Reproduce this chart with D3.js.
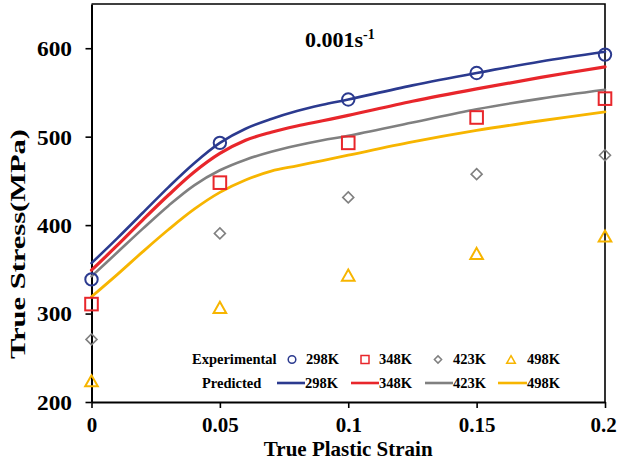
<!DOCTYPE html>
<html><head><meta charset="utf-8">
<script src="https://cdn.jsdelivr.net/npm/d3@7"></script>
<style>body{margin:0;background:#fff} svg{display:block}</style>
</head><body><div id="chart"></div>
<script>
// ---- data ----
const temperatures = ["298K", "348K", "423K", "498K"];
const strainExp = [0, 0.05, 0.1, 0.15, 0.2];
const exp298 = [338.6, 493, 542, 572, 592.8];
const exp348 = [310.7, 448, 493, 521.7, 543];
const exp423 = [270.8, 390.6, 431.3, 457.6, 479];
const exp498 = [224, 307, 343.5, 368, 387.6];
const strainPred = [0, 0.01, 0.02, 0.03, 0.04, 0.05, 0.06, 0.07, 0.08, 0.09, 0.1, 0.125, 0.15, 0.175, 0.2];
const pred298 = [357, 385, 414, 443, 470, 493, 509, 520, 529, 536, 542, 558, 572, 585, 596];
const pred348 = [349, 377, 406, 434, 460, 481, 496, 505, 512, 518, 524, 540, 554, 567, 579];
const pred423 = [342, 369, 396, 422, 445, 462, 474, 483, 490, 496, 501, 516, 531, 543, 553];
const pred498 = [319, 344, 370, 395, 418, 437, 451, 461, 467, 473, 479, 494, 507, 518, 528];
const xTicks = [0, 0.05, 0.1, 0.15, 0.2];
const xTickLabels = ["0", "0.05", "0.1", "0.15", "0.2"];
const yTicks = [200, 300, 400, 500, 600];
const yTickLabels = ["200", "300", "400", "500", "600"];
const titleMain = "0.001s";
const titleSup = "-1";
const xTitle = "True Plastic Strain";
const yTitle = "True Stress(MPa)";
const legendExpLabel = "Experimental";
const legendPredLabel = "Predicted";

const colors = ["#2b3a8f", "#e8262b", "#808080", "#f7b500"];
const lineWidths = [2.6, 3.2, 2.6, 2.8];
const shapes = ["circle", "square", "diamond", "triangle"];
const expSeries = [exp298, exp348, exp423, exp498];
const predSeries = [pred298, pred348, pred423, pred498];

const W = 617, H = 461;
const FONT = "'Liberation Serif','Times New Roman',serif";
const svg = d3.select("#chart").append("svg").attr("width", W).attr("height", H)
  .style("font-family", FONT).style("font-weight", "bold");

const x = d3.scaleLinear().domain([0, 0.2]).range([91.5, 605]);
const y = d3.scaleLinear().domain([200, 650]).range([402, 4]);

// frame (top & right)
svg.append("path").attr("d", `M${x(0)},${y(650)}H${x(0.2)}V${y(200)}`)
  .attr("fill", "none").attr("stroke", "#000").attr("stroke-width", 1.6);

// axes
const xAxis = svg.append("g").attr("transform", `translate(0,${y(200)})`)
  .call(d3.axisBottom(x).tickValues(xTicks).tickFormat((d, i) => xTickLabels[i]).tickSize(6).tickSizeOuter(0));
xAxis.select(".domain").attr("stroke-width", 2);
xAxis.selectAll(".tick line").attr("stroke-width", 1.6);
xAxis.selectAll(".tick text").attr("y", 30).attr("dy", 0)
  .attr("x", (d, i) => i === xTicks.length - 1 ? -2 : 0)
  .style("font-size", "21px").style("font-family", FONT).style("font-weight", "bold").attr("fill", "#000");

const yAxis = svg.append("g").attr("transform", `translate(${x(0)},0)`)
  .call(d3.axisLeft(y).tickValues(yTicks).tickFormat((d, i) => yTickLabels[i]).tickSize(6).tickSizeOuter(0));
yAxis.select(".domain").attr("stroke-width", 2);
yAxis.selectAll(".tick line").attr("stroke-width", 1.6);
yAxis.selectAll(".tick text").attr("x", -19.5).attr("dy", "0.35em")
  .attr("textLength", 35).attr("lengthAdjust", "spacingAndGlyphs")
  .style("font-size", "21px").style("font-family", FONT).style("font-weight", "bold").attr("fill", "#000");

// axis titles
svg.append("text").attr("x", (x(0) + x(0.2)) / 2).attr("y", 456).attr("text-anchor", "middle")
  .style("font-size", "21px").text(xTitle);
svg.append("text").attr("transform", `translate(25,244) rotate(-90)`).attr("text-anchor", "middle")
  .attr("textLength", 230).attr("lengthAdjust", "spacingAndGlyphs")
  .style("font-size", "22px").text(yTitle);

// chart title
const t = svg.append("text").attr("x", 305).attr("y", 46.5).style("font-size", "22px");
t.append("tspan").text(titleMain);
t.append("tspan").attr("dy", -8).style("font-size", "14px").text(titleSup);

// predicted curves
const line = d3.line().x((d, i) => x(strainPred[i])).y(d => y(d)).curve(d3.curveCatmullRom.alpha(0.5));
predSeries.forEach((s, k) => {
  svg.append("path").attr("d", line(s)).attr("fill", "none")
    .attr("stroke", colors[k]).attr("stroke-width", lineWidths[k]).attr("stroke-linecap", "round");
});

// marker drawing
function marker(g, shape, cx, cy, sz, color, sw) {
  if (shape === "circle") {
    g.append("circle").attr("cx", cx).attr("cy", cy).attr("r", sz)
      .attr("fill", "none").attr("stroke", color).attr("stroke-width", sw);
  } else if (shape === "square") {
    g.append("rect").attr("x", cx - sz).attr("y", cy - sz).attr("width", 2 * sz).attr("height", 2 * sz)
      .attr("fill", "none").attr("stroke", color).attr("stroke-width", sw);
  } else if (shape === "diamond") {
    g.append("path").attr("d", `M${cx},${cy - sz}L${cx + sz},${cy}L${cx},${cy + sz}L${cx - sz},${cy}Z`)
      .attr("fill", "none").attr("stroke", color).attr("stroke-width", sw);
  } else {
    const h = sz * 0.88;
    g.append("path").attr("d", `M${cx},${cy - h}L${cx + sz},${cy + h}L${cx - sz},${cy + h}Z`)
      .attr("fill", "none").attr("stroke", color).attr("stroke-width", sw).attr("stroke-linejoin", "miter");
  }
}
const plotSizes = [6.2, 6.3, 5.5, 6.3];
const plotSw = [2, 2, 1.6, 2];
const mg = svg.append("g");
expSeries.forEach((s, k) => {
  s.forEach((v, i) => marker(mg, shapes[k], x(strainExp[i]), y(v), plotSizes[k], colors[k], plotSw[k]));
});

// legend
const lg = svg.append("g").style("font-size", "14.5px");
lg.append("text").attr("x", 192).attr("y", 364).text(legendExpLabel);
lg.append("text").attr("x", 202).attr("y", 388).text(legendPredLabel);
const legMarkX = [292, 365, 438, 511];
const legTextX1 = [306, 379, 453, 527];
const legLineX = [[277, 305], [351, 379], [425, 453], [498, 527]];
const legSizes = [3.8, 4, 3.6, 4.3];
temperatures.forEach((tk, k) => {
  marker(lg, shapes[k], legMarkX[k], 359.5, legSizes[k], colors[k], 1.5);
  lg.append("text").attr("x", legTextX1[k]).attr("y", 364).text(tk);
  lg.append("line").attr("x1", legLineX[k][0]).attr("x2", legLineX[k][1]).attr("y1", 383).attr("y2", 383)
    .attr("stroke", colors[k]).attr("stroke-width", 2.6);
  lg.append("text").attr("x", legLineX[k][1]).attr("y", 388).text(tk);
});
</script>
</body></html>
